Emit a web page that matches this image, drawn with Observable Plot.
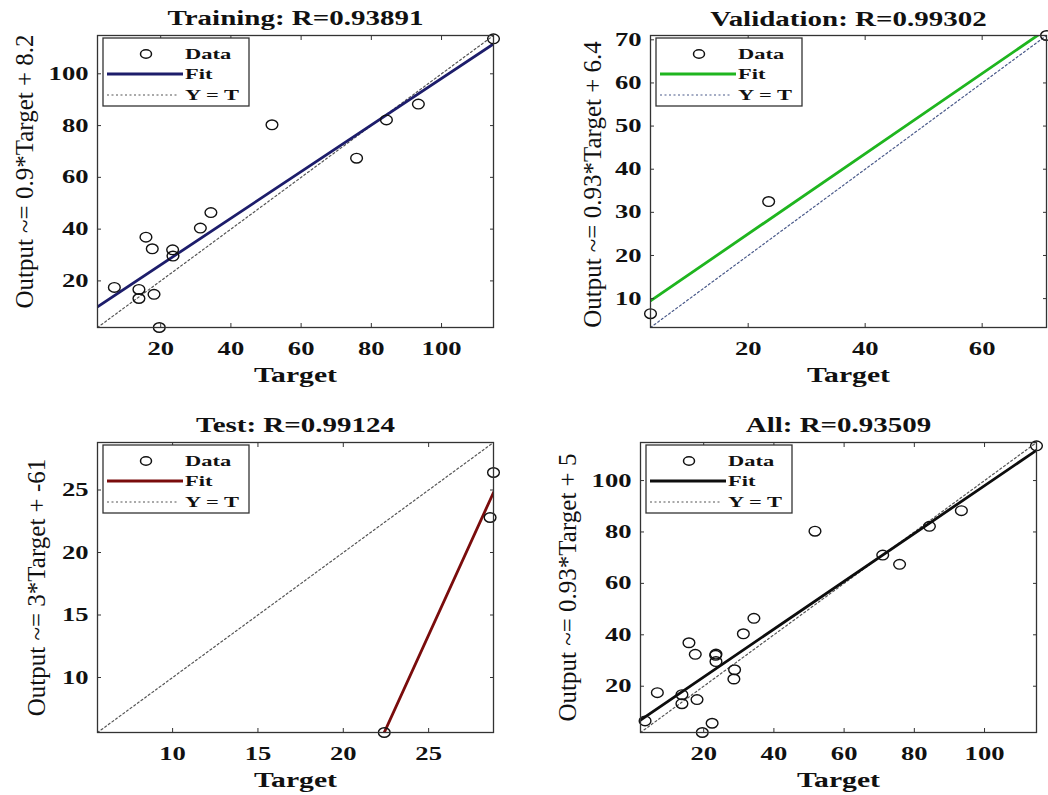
<!DOCTYPE html>
<html><head><meta charset="utf-8">
<script src="https://cdn.jsdelivr.net/npm/d3@7"></script>
<script src="https://cdn.jsdelivr.net/npm/@observablehq/plot@0.6"></script>
<style>
html,body{margin:0;padding:0;background:#fff;}
#root{position:relative;width:1048px;height:795px;overflow:hidden;background:#fff;}
.panel{position:absolute;}
</style></head><body><div id="root"></div>
<script>
// ---- data ----
const trainTarget = [6.8, 13.8, 13.8, 15.8, 17.6, 18.1, 19.6, 23.4, 23.5, 31.3, 34.3, 51.7, 75.8, 84.3, 93.4, 114.8];
const trainOutput = [17.5, 16.7, 13.2, 36.9, 32.4, 14.8, 2.0, 32.0, 29.6, 40.4, 46.4, 80.3, 67.4, 82.2, 88.3, 113.5];
const valTarget = [3.3, 23.5, 71.0];
const valOutput = [6.5, 32.5, 71.0];
const testTarget = [22.4, 28.8, 28.6];
const testOutput = [5.6, 26.4, 22.8];
const titles = ["Training: R=0.93891", "Validation: R=0.99302", "Test: R=0.99124", "All: R=0.93509"];
const yLabels = ["Output ~= 0.9*Target + 8.2", "Output ~= 0.93*Target + 6.4", "Output ~= 3*Target + -61", "Output ~= 0.93*Target + 5"];
const xLabel = "Target";
const fitSlope = [0.9, 0.93, 3.0, 0.93];
const fitIntercept = [8.2, 6.4, -61.6, 5];
const xTicks = [[20, 40, 60, 80, 100], [20, 40, 60], [10, 15, 20, 25], [20, 40, 60, 80, 100]];
const yTicks = [[20, 40, 60, 80, 100], [10, 20, 30, 40, 50, 60, 70], [10, 15, 20, 25], [20, 40, 60, 80, 100]];
const legendLabels = ["Data", "Fit", "Y = T"];

// ---- styling / layout ----
const fitColors = ["#1d1d6b", "#1fb51f", "#7a0c0c", "#0d0d0d"];
const idColors = ["#555", "#4a5a8a", "#555", "#555"];
const FONT = "Liberation Serif, Times New Roman, serif";
const layout = [
  {left: 0,   top: 0,   mL: 97,  mR: 31, mT: 35, mB: 68, ydx: -73,  ydy: -10, tdy: -17},
  {left: 524, top: 0,   mL: 126, mR: 2,  mT: 35, mB: 68, ydx: -58,  ydy: 3,   tdy: -16},
  {left: 0,   top: 400, mL: 97,  mR: 31, mT: 42, mB: 63, ydx: -61,  ydy: 0,   tdy: -17},
  {left: 524, top: 400, mL: 116, mR: 12, mT: 42, mB: 63, ydx: -73,  ydy: 0,   tdy: -17}
];

const zip = (t, o) => t.map((v, i) => ({target: v, output: o[i]}));
const sets = [
  zip(trainTarget, trainOutput),
  zip(valTarget, valOutput),
  zip(testTarget, testOutput),
  zip([...trainTarget, ...valTarget, ...testTarget], [...trainOutput, ...valOutput, ...testOutput])
];

const ellipse = {
  draw(ctx, size) {
    const r = Math.sqrt(size / Math.PI), rx = r * 1.22, ry = r, k = 0.5523;
    ctx.moveTo(rx, 0);
    ctx.bezierCurveTo(rx, ry * k, rx * k, ry, 0, ry);
    ctx.bezierCurveTo(-rx * k, ry, -rx, ry * k, -rx, 0);
    ctx.bezierCurveTo(-rx, -ry * k, -rx * k, -ry, 0, -ry);
    ctx.bezierCurveTo(rx * k, -ry, rx, -ry * k, rx, 0);
    ctx.closePath();
  }
};

// horizontal stretch of a text around its anchor point (the source image is widened)
function stretchSel(sel, factor) {
  sel.each(function () {
    let t = this.getAttribute("transform") || "";
    const x = this.getAttribute("x");
    if (x !== null && !isNaN(+x)) {
      t = `${t} translate(${+x},0)`;
      this.removeAttribute("x");
    }
    this.setAttribute("transform", `${t} scale(${factor},1)`);
  });
}
function stretchText(svg, content, factor) {
  stretchSel(d3.select(svg).selectAll("text").filter(function () { return this.textContent === content; }), factor);
}

function addLegend(svg, p, i) {
  const g = d3.select(svg).append("g").attr("transform", `translate(${p.mL + 6},${p.mT + 3})`);
  g.append("rect").attr("width", 146).attr("height", 68).attr("fill", "#fff").attr("stroke", "#333").attr("stroke-width", 1.3);
  const rows = [16, 36, 57];
  g.append("ellipse").attr("cx", 43).attr("cy", rows[0]).attr("rx", 5.5).attr("ry", 4.2).attr("fill", "none").attr("stroke", "#111").attr("stroke-width", 1.5);
  g.append("line").attr("x1", 4).attr("x2", 80).attr("y1", rows[1]).attr("y2", rows[1]).attr("stroke", fitColors[i]).attr("stroke-width", 2.8);
  g.append("line").attr("x1", 4).attr("x2", 76).attr("y1", rows[2]).attr("y2", rows[2]).attr("stroke", idColors[i]).attr("stroke-width", 1.2).attr("stroke-dasharray", "2,2.5");
  legendLabels.forEach((t, j) => {
    g.append("text").attr("class", "legtxt").attr("transform", `translate(82,${rows[j]})`).attr("dy", "0.35em")
      .attr("text-anchor", "start")
      .attr("font-family", FONT).attr("font-size", 14.5).attr("font-weight", "bold").attr("fill", "#111").text(t);
  });
  stretchSel(g.selectAll("text.legtxt"), 1.55);
}

const root = document.getElementById("root");
sets.forEach((data, i) => {
  const p = layout[i];
  const [lo, hi] = d3.extent(data.flatMap(d => [d.target, d.output]));
  const idLine = [{x: lo, y: lo}, {x: hi, y: hi}];
  const fitLine = [lo, hi].map(x => ({x, y: fitSlope[i] * x + fitIntercept[i]}));
  const textOpts = {fontFamily: FONT, fill: "#111"};
  const svg = Plot.plot({
    width: 524, height: 395,
    marginLeft: p.mL, marginRight: p.mR, marginTop: p.mT, marginBottom: p.mB,
    style: {fontFamily: FONT, color: "#222", background: "transparent", overflow: "visible"},
    x: {domain: [lo, hi]},
    y: {domain: [lo, hi]},
    marks: [
      Plot.line(idLine, {x: "x", y: "y", stroke: idColors[i], strokeWidth: 1.2, strokeDasharray: "2,2.5", clip: true}),
      Plot.line(fitLine, {x: "x", y: "y", stroke: fitColors[i], strokeWidth: 2.8, clip: true}),
      Plot.dot(data, {x: "target", y: "output", r: 4.8, symbol: ellipse, fill: "none", stroke: "#111", strokeWidth: 1.4}),
      Plot.axisX(xTicks[i], {anchor: "bottom", tickSize: -4, tickPadding: 18, fontSize: 19, fontWeight: "bold", label: null, stroke: "#333", ...textOpts}),
      Plot.axisX(xTicks[i], {anchor: "top", tickSize: -4, fill: "none", label: null, stroke: "#333"}),
      Plot.axisY(yTicks[i], {anchor: "left", tickSize: -4, tickPadding: 13, fontSize: 19, fontWeight: "bold", label: null, stroke: "#333", ...textOpts}),
      Plot.axisY(yTicks[i], {anchor: "right", tickSize: -4, fill: "none", label: null, stroke: "#333"}),
      Plot.frame({stroke: "#333", strokeWidth: 1.3}),
      Plot.text([titles[i]], {text: d => d, frameAnchor: "top", dy: p.tdy, lineAnchor: "middle", fontSize: 20, fontWeight: "bold", ...textOpts}),
      Plot.text([xLabel], {text: d => d, frameAnchor: "bottom", dy: 47, lineAnchor: "middle", fontSize: 22, fontWeight: "bold", ...textOpts}),
      Plot.text([yLabels[i]], {text: d => d, frameAnchor: "left", rotate: -90, dx: p.ydx, dy: p.ydy, lineAnchor: "middle", textAnchor: "middle", fontSize: 25, ...textOpts})
    ]
  });
  const wrap = document.createElement("div");
  wrap.className = "panel";
  wrap.style.left = p.left + "px";
  wrap.style.top = p.top + "px";
  wrap.appendChild(svg);
  root.appendChild(wrap);
  addLegend(svg, p, i);
  stretchText(svg, titles[i], 1.45);
  stretchText(svg, xLabel, 1.35);
  stretchSel(d3.select(svg).selectAll('g[aria-label="x-axis tick label"] text'), 1.4);
  stretchSel(d3.select(svg).selectAll('g[aria-label="y-axis tick label"] text'), 1.4);
});
</script></body></html>
